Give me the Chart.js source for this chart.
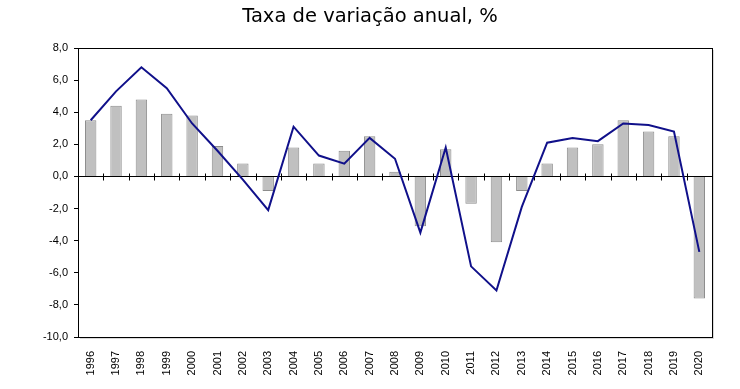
<!DOCTYPE html>
<html>
<head>
<meta charset="utf-8">
<script src="https://cdn.jsdelivr.net/npm/chart.js@4/dist/chart.umd.min.js"></script>
<style>
  html, body { margin: 0; padding: 0; background: #fff; }
  #wrap { width: 740px; height: 389px; }
</style>
</head>
<body>
<div id="wrap"><canvas id="myChart"></canvas></div>
<script>
const years = ["1996", "1997", "1998", "1999", "2000", "2001", "2002", "2003", "2004", "2005", "2006", "2007", "2008",
  "2009", "2010", "2011", "2012", "2013", "2014", "2015", "2016", "2017", "2018", "2019", "2020"];
const barValues = [3.5, 4.4, 4.8, 3.9, 3.8, 1.9, 0.8, -0.9, 1.8, 0.8, 1.6, 2.5, 0.3,
  -3.1, 1.7, -1.7, -4.1, -0.9, 0.8, 1.8, 2.0, 3.5, 2.8, 2.5, -7.6];
const lineValues = [3.5, 5.3, 6.8, 5.5, 3.3, 1.6, -0.2, -2.1, 3.1, 1.3, 0.8, 2.4, 1.1,
  -3.5, 1.8, -5.6, -7.1, -1.9, 2.1, 2.4, 2.2, 3.3, 3.2, 2.8, -4.7];
const yMin = -10;
const yMax = 8;

const tickFont = { family: "'Liberation Sans', Arial, sans-serif", size: 11 };

// border around the plot + zero line with its little category ticks
const frame = {
  id: "frame",
  beforeDatasetsDraw(c) {
    const { ctx, chartArea: a, scales } = c;
    const y0 = Math.round(scales.y.getPixelForValue(0)) + 0.5;
    const step = (a.right - a.left) / years.length;
    ctx.save();
    ctx.strokeStyle = "#000";
    ctx.lineWidth = 1;
    ctx.beginPath();
    ctx.moveTo(a.left, y0);
    ctx.lineTo(a.right, y0);
    for (let i = 1; i < years.length; i++) {
      const x = Math.round(scales.x.getPixelForValue(i) - step / 2) + 0.5;
      ctx.moveTo(x, y0 - 3);
      ctx.lineTo(x, y0 + 4);
    }
    ctx.stroke();
    ctx.restore();
  },
  afterDraw(c) {
    const { ctx, chartArea: a } = c;
    ctx.save();
    ctx.strokeStyle = "rgba(0,0,0,0.15)";
    ctx.lineWidth = 1;
    ctx.beginPath();
    ctx.moveTo(Math.round(a.right) + 1.5, Math.round(a.top) + 2);
    ctx.lineTo(Math.round(a.right) + 1.5, Math.round(a.bottom) + 1.5);
    ctx.lineTo(Math.round(a.left) + 2, Math.round(a.bottom) + 1.5);
    ctx.stroke();
    ctx.strokeStyle = "#000";
    ctx.strokeRect(Math.round(a.left) + 0.5, Math.round(a.top) + 0.5,
      Math.round(a.right - a.left), Math.round(a.bottom - a.top));
    ctx.restore();
  }
};

const chart = new Chart(document.getElementById("myChart"), {
  data: {
    labels: years,
    datasets: [
      {
        type: "line",
        data: lineValues,
        borderColor: "#10108a",
        borderWidth: 2,
        pointRadius: 0,
        tension: 0,
        order: 0
      },
      {
        type: "bar",
        data: barValues,
        backgroundColor: "#c0c0c0",
        borderColor: "#8c8c8c",
        borderWidth: 1,
        barPercentage: 0.45,
        categoryPercentage: 1,
        order: 1
      }
    ]
  },
  options: {
    responsive: true,
    maintainAspectRatio: false,
    animation: false,
    layout: { padding: 0 },
    plugins: {
      legend: { display: false },
      tooltip: { enabled: false },
      title: {
        display: true,
        text: "Taxa de variação anual, %",
        color: "#000",
        font: { family: "'DejaVu Sans', Verdana, sans-serif", size: 19.5, weight: "normal" },
        padding: { top: 5, bottom: 19.6 }
      }
    },
    scales: {
      x: {
        grid: { display: false },
        border: { display: false },
        ticks: {
          color: "#000",
          font: tickFont,
          minRotation: 90,
          maxRotation: 90,
          autoSkip: false,
          padding: 6
        },
        afterFit(s) { s.height = 52; }
      },
      y: {
        min: yMin,
        max: yMax,
        border: { display: true, color: "#000" },
        grid: { drawOnChartArea: false, color: "#000", tickLength: 4 },
        ticks: {
          stepSize: 2,
          color: "#000",
          font: tickFont,
          padding: 6,
          callback: v => v.toFixed(1).replace(".", ",")
        },
        afterFit(s) { s.width = 78; }
      },
      pad: {
        position: "right",
        display: true,
        grid: { display: false },
        border: { display: false },
        ticks: { display: false },
        afterFit(s) { s.width = 28; }
      }
    }
  },
  plugins: [frame]
});
</script>
</body>
</html>
